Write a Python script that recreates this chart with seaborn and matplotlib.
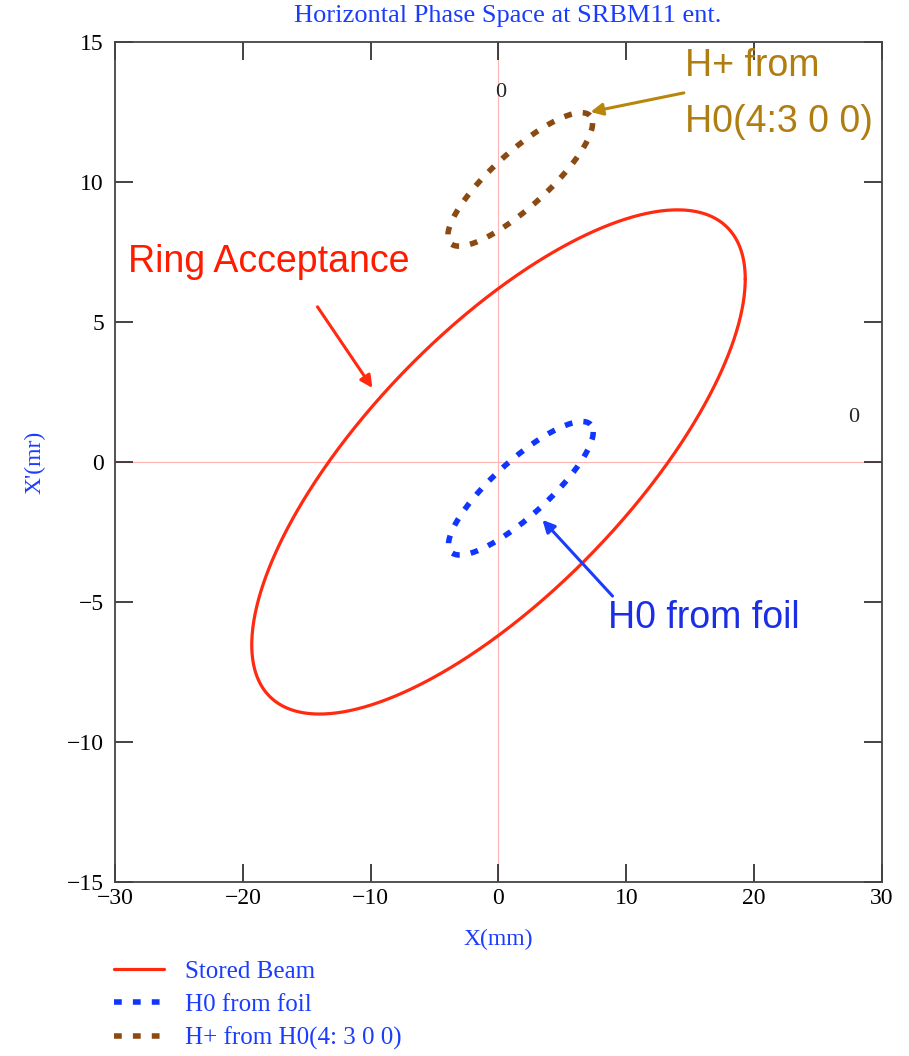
import numpy as np
import pandas as pd
import matplotlib
matplotlib.use("Agg")
import matplotlib.pyplot as plt
import seaborn as sns

# ---- data (ellipse parameters) ----
series_names = ["Stored Beam", "H0 from foil", "H+ from H0(4: 3 0 0)"]
emittance = [119.6, 7.25, 7.25]      # mm*mrad
beta = [3.115, 4.42, 4.42]           # mm/mrad
alpha = [-1.054, -1.57, -1.57]
center_x = [0.0, 1.75, 1.70]         # mm
center_xp = [0.0, -0.94, 10.09]      # mrad
series_colors = ["#ff2a10", "#1035ff", "#8b4a12"]

x_ticks = [-30, -20, -10, 0, 10, 20, 30]
y_ticks = [-15, -10, -5, 0, 5, 10, 15]

sns.set_style("ticks")
plt.rcParams["font.family"] = ["Liberation Serif", "DejaVu Serif"]

fig = plt.figure(figsize=(9.09, 10.56), dpi=100)
ax = fig.add_axes([0.1265, 0.1648, 0.8438, 0.7955])

phase = np.linspace(0, 2 * np.pi, 721)
frames = []
for name, e, b, a, cx, cy in zip(series_names, emittance, beta, alpha, center_x, center_xp):
    x = np.sqrt(e * b) * np.cos(phase) + cx
    xp = -np.sqrt(e / b) * (a * np.cos(phase) + np.sin(phase)) + cy
    frames.append(pd.DataFrame({"x": x, "xp": xp, "series": name}))
data = pd.concat(frames, ignore_index=True)

# crosshair
ax.axhline(0, color="#ffb4b4", lw=0.8, zorder=0)
ax.axvline(0, color="#ffb4b4", lw=0.8, zorder=0)

styles = [
    dict(lw=2.3, linestyle="-"),
    dict(lw=4.0, linestyle=(0, (1.4, 2.0))),
    dict(lw=4.0, linestyle=(0, (1.4, 2.0))),
]
for name, col, st in zip(series_names, series_colors, styles):
    sub = data[data["series"] == name]
    sns.lineplot(data=sub, x="x", y="xp", sort=False, estimator=None, ax=ax,
                 color=col, label=name, **st)

ax.set_xlim(-30, 30)
ax.set_ylim(-15, 15)
ax.set_xticks(x_ticks)
ax.set_yticks(y_ticks)
ax.set_xlabel("")
ax.set_ylabel("")
ax.tick_params(direction="in", length=13, width=1.2, top=True, right=True,
               labelsize=17, colors="#222222", labelcolor="black")
ax.tick_params(axis="x", pad=4)
ax.tick_params(axis="y", pad=8)
for sp in ax.spines.values():
    sp.set_visible(True)
    sp.set_color("#444444")
    sp.set_linewidth(1.3)

# marker labels "0"
ax.text(0.2, 13.2, "0", fontsize=16, ha="center", va="center")
ax.text(27.8, 1.6, "0", fontsize=16, ha="center", va="center")

# annotations
ax.text(-29.0, 7.14, "Ring Acceptance", color="#ff1a00", fontsize=27,
        family="Liberation Sans", va="center", ha="left")
ax.annotate("", xy=(-9.86, 2.64), xytext=(-14.16, 5.54),
            arrowprops=dict(arrowstyle="-|>", color="#ff2a10", lw=2.2,
                            mutation_scale=18, shrinkA=0, shrinkB=0))
ax.text(14.6, 13.15, "H+ from\nH0(4:3 0 0)", color="#b07d10", fontsize=27,
        family="Liberation Sans", va="center", ha="left", linespacing=1.72)
ax.annotate("", xy=(7.2, 12.5), xytext=(14.5, 13.18),
            arrowprops=dict(arrowstyle="-|>", color="#b8860b", lw=2.2,
                            mutation_scale=18, shrinkA=0, shrinkB=0))
ax.text(8.6, -5.57, "H0 from foil", color="#1a2ee6", fontsize=27,
        family="Liberation Sans", va="center", ha="left")
ax.annotate("", xy=(3.44, -2.07), xytext=(8.92, -4.79),
            arrowprops=dict(arrowstyle="-|>", color="#1a3cff", lw=2.2,
                            mutation_scale=18, shrinkA=0, shrinkB=0))

# titles/labels
fig.text(0.559, 0.985, "Horizontal Phase Space at SRBM11 ent.", color="#1a3cff",
         fontsize=19, ha="center", va="center")
fig.text(0.0385, 0.5625, "X'(mr)", color="#1a3cff", fontsize=17, rotation=90,
         ha="center", va="center")
fig.text(0.548, 0.110, "X(mm)", color="#1a3cff", fontsize=17, ha="center", va="center")

leg = ax.legend(loc="upper left", bbox_to_anchor=(0.114, 0.1),
                bbox_transform=fig.transFigure, frameon=False, fontsize=18,
                handlelength=2.0, handletextpad=0.85, labelspacing=0.42,
                labelcolor="#1a3cff", borderaxespad=0)

fig.savefig("out.png", dpi=100)
